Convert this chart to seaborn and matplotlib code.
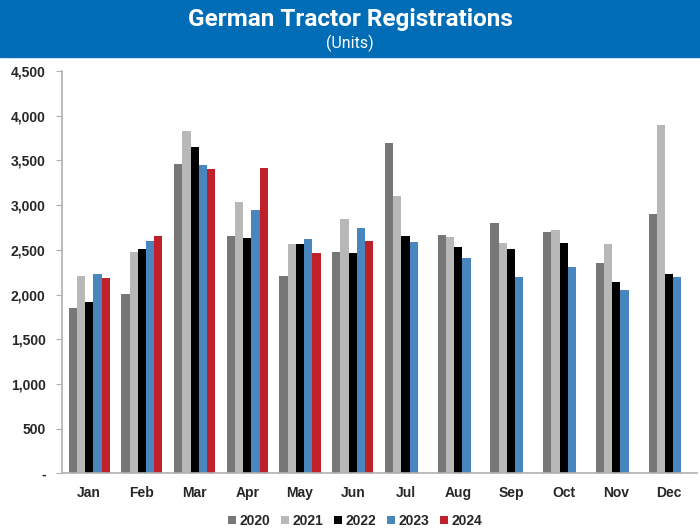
import seaborn as sns
import matplotlib.pyplot as plt
import matplotlib.ticker as mticker
import pandas as pd

months = ["Jan", "Feb", "Mar", "Apr", "May", "Jun", "Jul", "Aug", "Sep", "Oct", "Nov", "Dec"]
years = ["2020", "2021", "2022", "2023", "2024"]
units_2020 = [1850, 2010, 3460, 2650, 2210, 2470, 3690, 2670, 2800, 2700, 2350, 2900]
units_2021 = [2210, 2480, 3830, 3030, 2570, 2850, 3100, 2640, 2580, 2720, 2560, 3900]
units_2022 = [1920, 2510, 3650, 2630, 2560, 2460, 2650, 2530, 2510, 2580, 2140, 2230]
units_2023 = [2230, 2600, 3450, 2950, 2620, 2740, 2590, 2410, 2200, 2310, 2050, 2200]
units_2024 = [2190, 2660, 3400, 3420, 2460, 2600]

series = [units_2020, units_2021, units_2022, units_2023, units_2024]
rows = []
for yr, vals in zip(years, series):
    for m, v in zip(months, vals):
        rows.append({"Month": m, "Year": yr, "Units": v})
df = pd.DataFrame(rows)

palette = {"2020": "#777777", "2021": "#b8b8b8", "2022": "#000000",
           "2023": "#4a86be", "2024": "#c0202a"}

sns.set_style("white")
plt.rcParams['font.family'] = ['Liberation Sans', 'DejaVu Sans']

fig = plt.figure(figsize=(7, 5.3), dpi=100)
ax = fig.add_axes([0.089, 0.107, 0.906, 0.759])

sns.barplot(data=df, x="Month", y="Units", hue="Year", order=months, hue_order=years,
            palette=palette, width=0.78, gap=0, saturation=1, linewidth=0,
            ax=ax, legend=True)

ax.set_ylim(0, 4500)
ax.set_xlim(-0.51, 11.52)
ax.yaxis.set_major_locator(mticker.MultipleLocator(500))
ax.yaxis.set_major_formatter(mticker.FuncFormatter(lambda v, p: "-" if v == 0 else f"{int(v):,}"))
ax.set_xlabel("")
ax.set_ylabel("")
for s in ["top", "right"]:
    ax.spines[s].set_visible(False)
for s in ["left", "bottom"]:
    ax.spines[s].set_color("#b0b0b0")
    ax.spines[s].set_linewidth(1.2)
ax.tick_params(axis="y", left=True, length=4, color="#b0b0b0", labelsize=10, pad=8)
ax.tick_params(axis="x", bottom=False, labelsize=10, pad=6)
for lab in ax.get_xticklabels() + ax.get_yticklabels():
    lab.set_fontweight("bold")

leg = ax.legend(loc="upper center", bbox_to_anchor=(0.462, -0.07), ncol=5, frameon=False,
                handlelength=0.55, handleheight=0.55, handletextpad=0.25, columnspacing=0.8,
                prop={"weight": "bold", "size": 10})

# blue banner with title
fig.patches.append(plt.Rectangle((0, 0.893), 1, 0.107, transform=fig.transFigure,
                                 color="#006db6", zorder=0))
fig.text(0.5, 0.963, "German Tractor Registrations", ha="center", va="center",
         color="white", fontsize=17.5, fontweight="bold", family=["Roboto", "DejaVu Sans"])
fig.text(0.5, 0.918, "(Units)", ha="center", va="center",
         color="white", fontsize=11.5, family=["Roboto", "DejaVu Sans"])

plt.savefig("out.png", dpi=100)
